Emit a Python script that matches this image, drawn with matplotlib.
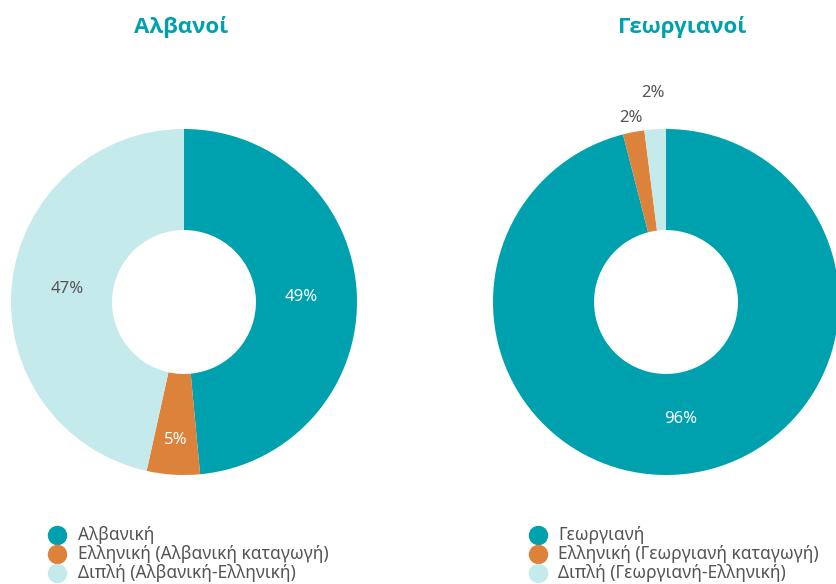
import numpy as np
import matplotlib
matplotlib.use('Agg')
from matplotlib import pyplot as plt
from matplotlib.lines import Line2D

plt.rcParams['font.family'] = ['Noto Sans', 'DejaVu Sans']

titles = ['Αλβανοί', 'Γεωργιανοί']
labels_alb = ['Αλβανική', 'Ελληνική (Αλβανική καταγωγή)', 'Διπλή (Αλβανική-Ελληνική)']
labels_geo = ['Γεωργιανή', 'Ελληνική (Γεωργιανή καταγωγή)', 'Διπλή (Γεωργιανή-Ελληνική)']
values_alb = [49, 5, 47]
values_geo = [96, 2, 2]
colors = ['#00A1AF', '#DC823B', '#C5EAEB']
teal = '#00A1AF'
grey = '#555555'

fig = plt.figure(figsize=(8.36, 5.84), dpi=100)
W, H = 836, 584
R = 173


def donut(cx, cy, values, title, tcx, labels, mx, tx, outside):
    ax = fig.add_axes([(cx - R) / W, (H - cy - R) / H, 2 * R / W, 2 * R / H])
    wedges, _ = ax.pie(values, colors=colors, startangle=90, counterclock=False,
                       radius=1, wedgeprops=dict(width=0.584, edgecolor='none'))
    ax.set_xlim(-1, 1)
    ax.set_ylim(-1, 1)
    ax.axis('off')
    for i, (w, v) in enumerate(zip(wedges, values)):
        ang = np.deg2rad((w.theta1 + w.theta2) / 2)
        if i in outside:
            r = outside[i]
            col = grey
        else:
            r = 0.8 if v < 10 else 0.68
            col = 'white' if i < 2 else grey
        ax.text(r * np.cos(ang), r * np.sin(ang), f'{v}%', ha='center', va='center',
                color=col, fontsize=12)
    fig.text(tcx / W, 1 - 27 / H, title, ha='center', va='center', color=teal,
             fontsize=16, fontweight='bold', family='Open Sans')
    for j, lab in enumerate(labels):
        y = 1 - (535 + j * 19) / H
        fig.add_artist(Line2D([mx / W], [y], marker='o', markersize=13, color=colors[j],
                              linestyle='none', transform=fig.transFigure))
        fig.text(tx / W, y, lab, ha='left', va='center', color=grey, fontsize=12.5)


donut(184, 302, values_alb, titles[0], 181, labels_alb, 57, 78, {})
donut(666, 302, values_geo, titles[1], 682, labels_geo, 538, 558, {1: 1.08, 2: 1.21})

plt.savefig('out.png', dpi=100)
